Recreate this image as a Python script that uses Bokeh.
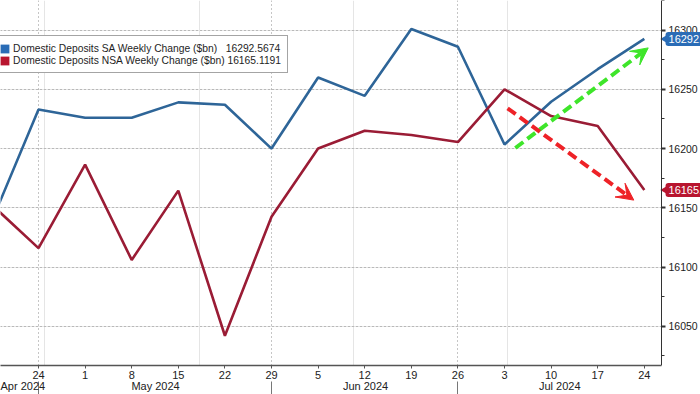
import math
import pandas as pd
from bokeh.plotting import figure
from bokeh.models import (Range1d, LinearAxis, FixedTicker, CustomJSTickFormatter,
                          Legend, LegendItem, Label, Arrow, VeeHead, Grid, BoxAnnotation)
from bokeh.embed import file_html
from bokeh.resources import INLINE

# ---------------- data ----------------
dates = ["2024-04-17", "2024-04-24", "2024-05-01", "2024-05-08", "2024-05-15",
         "2024-05-22", "2024-05-29", "2024-06-05", "2024-06-12", "2024-06-19",
         "2024-06-26", "2024-07-03", "2024-07-10", "2024-07-17", "2024-07-24"]
sa_values = [16139.0, 16233.0, 16226.0, 16226.0, 16239.0, 16237.0, 16200.0, 16260.0,
             16244.5, 16301.0, 16286.0, 16203.5, 16239.5, 16267.0, 16292.5674]
nsa_values = [16152.5, 16116.0, 16186.5, 16106.0, 16164.5, 16042.0, 16142.5, 16200.0,
              16215.0, 16211.5, 16205.5, 16250.0, 16227.5, 16219.0, 16165.1191]
sa_name = "Domestic Deposits SA Weekly Change ($bn)"
nsa_name = "Domestic Deposits NSA Weekly Change ($bn)"
sa_last_text = "16292.5674"
nsa_last_text = "16165.1191"
y_ticks = [16050, 16100, 16150, 16200, 16250, 16300]
y_minor_ticks = [16025, 16075, 16125, 16175, 16225, 16275, 16325]
month_labels = ["Apr 2024", "May 2024", "Jun 2024", "Jul 2024"]
month_label_at = ["2024-04-19 19:00", "2024-05-11 14:00", "2024-06-12 03:00", "2024-07-11 07:00"]
month_separators = ["2024-04-24", "2024-05-29", "2024-06-26"]
x_window = ["2024-04-18 07:00", "2024-08-01 10:30"]
value_axis_at = "2024-07-26 14:00"
y_window = [16016.9, 16325.0]
# hand-drawn trend arrows (annotation endpoints: date, value)
green_arrow = [("2024-07-04 15:00", 16200.5), ("2024-07-24 14:00", 16285.0)]
red_arrow = [("2024-07-03 11:00", 16234.0), ("2024-07-22 10:00", 16156.5)]


def ms(d):
    return (pd.Timestamp(d) - pd.Timestamp("1970-01-01")).total_seconds() * 1000.0


x_ms = [ms(d) for d in dates]
x0, x1 = ms(x_window[0]), ms(x_window[1])
ax_x = ms(value_axis_at)
day_ms = 86400000.0
NAN = float("nan")

FONT = "Liberation Sans"
BLUE_LINE = "#2e6598"
RED_LINE = "#9a1c35"
BLUE_TAG = "#2a6cb6"
RED_TAG = "#b8152f"

p = figure(width=700, height=394, output_backend="svg", toolbar_location=None,
           x_axis_location=None, y_axis_location=None,
           x_range=Range1d(x0, x1), y_range=Range1d(y_window[0], y_window[1]),
           min_border_left=0, min_border_top=0, min_border_right=0, min_border_bottom=28)
p.outline_line_color = None
p.background_fill_color = "white"
p.border_fill_color = "white"

# grids
ygrid = Grid(dimension=1, ticker=FixedTicker(ticks=y_ticks),
             grid_line_color="#8c8c8c", grid_line_dash="1 3", grid_line_width=1)
xgrid = Grid(dimension=0, ticker=FixedTicker(ticks=[ms(d) for d in month_separators]),
             grid_line_color="#8c8c8c", grid_line_dash="1 3", grid_line_width=1)
p.add_layout(ygrid)
p.add_layout(xgrid)
# keep the area right of the value axis clean
p.add_layout(BoxAnnotation(left=ax_x, fill_color="white", fill_alpha=1.0,
                           line_color=None, level="underlay"))

# lines
p.line(x=x_ms, y=sa_values, line_color=BLUE_LINE, line_width=2.6)
p.line(x=x_ms, y=nsa_values, line_color=RED_LINE, line_width=2.6)

# legend swatches (renderers with no visible geometry, used only for the legend)
sw_sa = p.quad(left=[NAN], right=[NAN], top=[NAN], bottom=[NAN],
               fill_color=BLUE_TAG, line_color=None)
sw_nsa = p.quad(left=[NAN], right=[NAN], top=[NAN], bottom=[NAN],
                fill_color=RED_TAG, line_color=None)
legend = Legend(items=[
    LegendItem(label=sa_name + "\u00a0" * 3 + sa_last_text, renderers=[sw_sa]),
    LegendItem(label=nsa_name + "\u00a0" * 1 + nsa_last_text, renderers=[sw_nsa]),
], location=(-8, 292), glyph_width=11, glyph_height=11, label_standoff=3,
    padding=6, spacing=0, margin=0, label_height=12,
    label_text_font=FONT, label_text_font_size="10.3px", label_text_color="#1e1e1e",
    border_line_color="#4a4a4a", border_line_width=1,
    background_fill_color="white", background_fill_alpha=1.0)
p.add_layout(legend)

# right value axis, drawn at a fixed date so the tags can sit beyond it
yaxis = LinearAxis(ticker=FixedTicker(ticks=y_ticks, minor_ticks=y_minor_ticks),
                   fixed_location=ax_x,
                   major_tick_out=4, major_tick_in=0, minor_tick_out=3, minor_tick_in=0,
                   major_tick_line_width=2, major_label_standoff=3,
                   axis_line_color="#333333", major_tick_line_color="#333333",
                   minor_tick_line_color="#333333",
                   major_label_text_font=FONT, major_label_text_font_size="10.5px",
                   major_label_text_color="#222222")
p.add_layout(yaxis, "right")

# day-number axis
day_axis = LinearAxis(ticker=FixedTicker(ticks=x_ms), bounds=(x0, ax_x),
                      formatter=CustomJSTickFormatter(code="return String(new Date(tick).getUTCDate())"),
                      major_tick_out=3, major_tick_in=0, minor_tick_out=0, minor_tick_in=0,
                      major_label_standoff=2,
                      axis_line_color="#555555", axis_line_width=1.5,
                      major_tick_line_color="#555555",
                      major_label_text_font=FONT, major_label_text_font_size="11px",
                      major_label_text_color="#222222")
p.add_layout(day_axis, "below")

# month axis (labels centred between separators)
month_ticks = [ms(d) for d in month_label_at]
month_axis = LinearAxis(ticker=FixedTicker(ticks=month_ticks,
                                           minor_ticks=[ms(d) for d in month_separators]),
                        major_label_overrides={t: l for t, l in zip(month_ticks, month_labels)},
                        major_tick_out=0, major_tick_in=0, minor_tick_out=13, minor_tick_in=0,
                        minor_tick_line_color="#777777", major_label_standoff=-15,
                        axis_line_color=None,
                        major_label_text_font=FONT, major_label_text_font_size="11px",
                        major_label_text_color="#222222")
p.add_layout(month_axis, "below")

# last-value tags (pointer + box)
p.scatter(x=[ax_x + 0.85 * day_ms] * 2, y=[sa_values[-1], nsa_values[-1]],
          marker="triangle", angle=math.pi / 2, size=12,
          fill_color=[BLUE_TAG, RED_TAG], line_color=None)
tag_x = ax_x + 0.6 * day_ms
for val, txt, col in [(sa_values[-1], sa_last_text, BLUE_TAG), (nsa_values[-1], nsa_last_text, RED_TAG)]:
    p.add_layout(Label(x=tag_x, y=val, text=txt,
                       text_color="white", text_font=FONT, text_font_size="11px",
                       text_baseline="middle", background_fill_color=col,
                       padding=3, border_radius=3))

# trend arrows
for (s, e), col in [(green_arrow, "#3ee52a"), (red_arrow, "#ee2227")]:
    p.add_layout(Arrow(x_start=ms(s[0]), y_start=s[1], x_end=ms(e[0]), y_end=e[1],
                       line_color=col, line_width=4, line_dash="10 5",
                       end=VeeHead(size=17, fill_color=col, line_color=col, line_width=1)))

open("out.html", "w").write(file_html(p, INLINE))
